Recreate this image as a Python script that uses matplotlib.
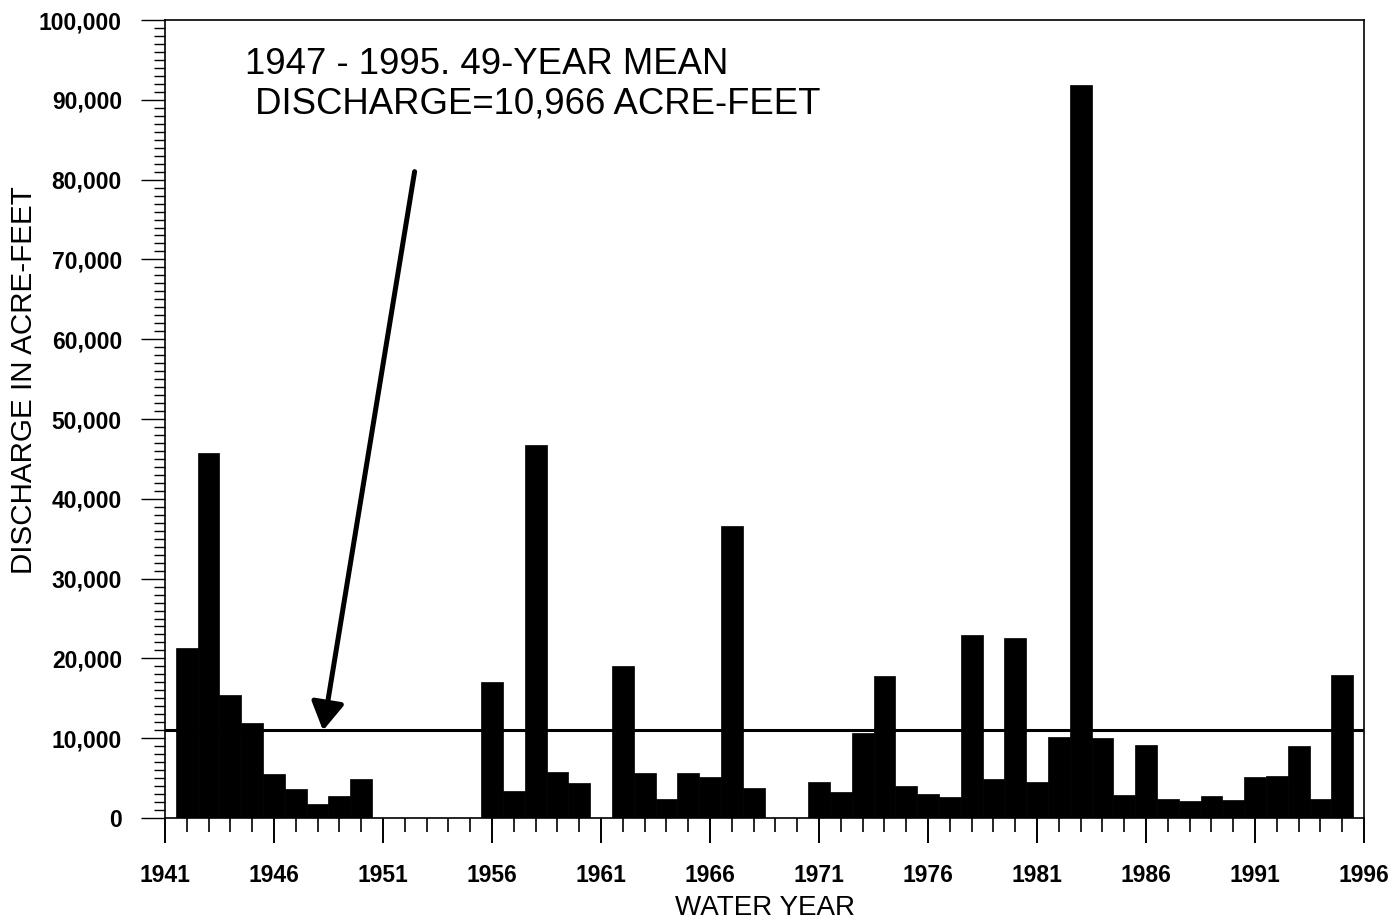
#annual discharge by water year with the long term mean line

import numpy as np
import matplotlib.pyplot as plt
from matplotlib.ticker import MultipleLocator, FixedLocator, FuncFormatter

plt.rc('font', family=['Liberation Sans', 'DejaVu Sans'])

#water years with records, discharge in acre-feet
years = [1942, 1943, 1944, 1945, 1946, 1947, 1948, 1949, 1950,
         1956, 1957, 1958, 1959, 1960,
         1962, 1963, 1964, 1965, 1966, 1967, 1968,
         1971, 1972, 1973, 1974, 1975, 1976, 1977, 1978, 1979, 1980,
         1981, 1982, 1983, 1984, 1985, 1986, 1987, 1988, 1989, 1990,
         1991, 1992, 1993, 1994, 1995]
discharge = [21300, 45700, 15400, 11900, 5500, 3600, 1800, 2750, 4900,
             17100, 3400, 46700, 5800, 4350,
             19000, 5700, 2400, 5700, 5100, 36600, 3700,
             4550, 3300, 10700, 17800, 4000, 3000, 2600, 22900, 4900, 22600,
             4550, 10100, 91900, 10000, 2900, 9150, 2350, 2100, 2750, 2250,
             5200, 5300, 9050, 2400, 17900]
year_ticks = [1941, 1946, 1951, 1956, 1961, 1966, 1971, 1976, 1981, 1986, 1991, 1996]

mean_discharge = 10966
title_lines = ['1947 - 1995. 49-YEAR MEAN', ' DISCHARGE=10,966 ACRE-FEET']

fig = plt.figure(figsize=(13.97, 9.19), dpi=100)
ax = fig.add_axes([0.1181, 0.1099, 0.8583, 0.8683])

ax.bar(years, discharge, width=1.0, color='black', edgecolor='black', linewidth=0.5)
ax.axhline(mean_discharge, color='black', lw=2.2)

#arrow pointing at the mean line
ax.annotate('', xy=(1948.25, mean_discharge), xytext=(1952.45, 81000),
            arrowprops=dict(arrowstyle='-|>,head_length=0.85,head_width=0.5',
                            mutation_scale=20, lw=3.6, color='black',
                            shrinkA=0, shrinkB=0))

ax.set_xlim(1941, 1996)
ax.set_ylim(0, 100000)
ax.xaxis.set_major_locator(FixedLocator(year_ticks))
ax.xaxis.set_minor_locator(MultipleLocator(1))
ax.yaxis.set_major_locator(MultipleLocator(10000))
ax.yaxis.set_minor_locator(MultipleLocator(1000))
ax.yaxis.set_major_formatter(FuncFormatter(lambda v, p: '{:,}'.format(int(v))))

ax.tick_params(axis='x', which='major', direction='out', length=18, width=1.4, pad=15)
ax.tick_params(axis='x', which='minor', direction='out', length=10, width=1.2)
ax.tick_params(axis='y', which='major', direction='out', length=17, width=1.0, pad=14)
ax.tick_params(axis='y', which='minor', direction='out', length=8, width=1.0)
for lab in ax.get_xticklabels() + ax.get_yticklabels():
    lab.set_fontsize(16.5)
    lab.set_fontweight('bold')

for s in ax.spines.values():
    s.set_linewidth(1.2)

ax.set_xlabel('WATER YEAR', fontsize=20, labelpad=6)
ax.set_ylabel('DISCHARGE IN ACRE-FEET', fontsize=21.3)
ax.yaxis.set_label_coords(-0.106, 0.549)

fig.text(245/1397, 1 - 64/919, title_lines[0], fontsize=26.3, va='center', ha='left')
fig.text(245/1397, 1 - 104/919, title_lines[1], fontsize=26.3, va='center', ha='left')

fig.savefig('out.png', dpi=100)
